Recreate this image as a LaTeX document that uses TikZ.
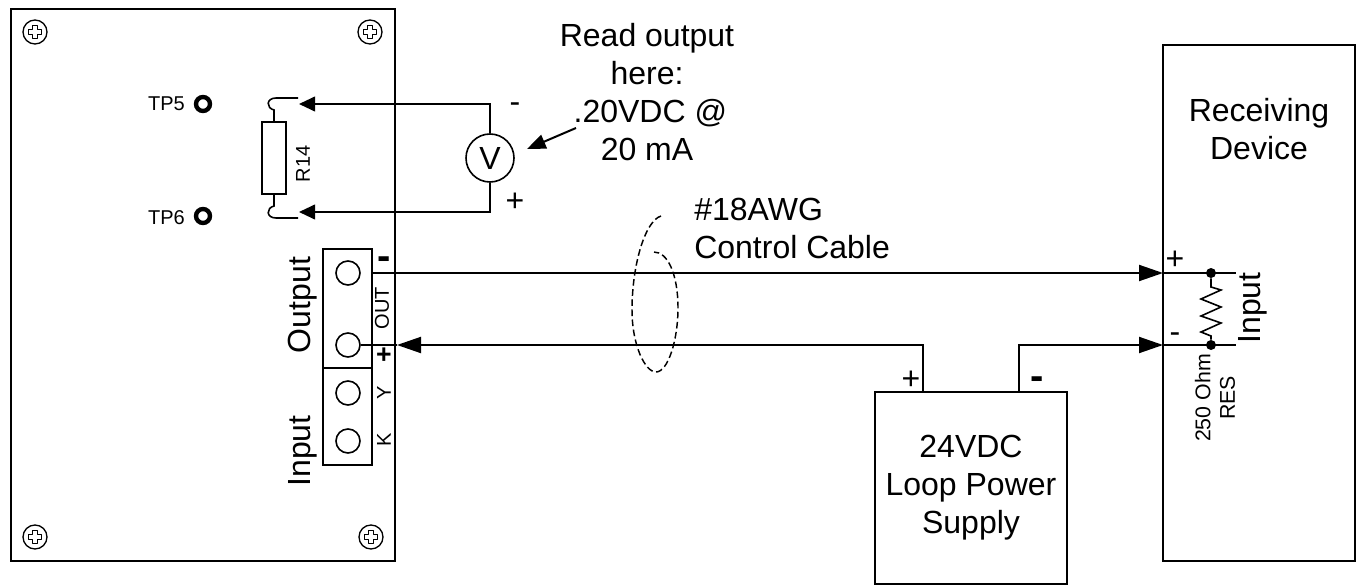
\documentclass[tikz,border=0pt]{standalone}
\usepackage{fontspec}
\setmainfont{Liberation Sans}
\usetikzlibrary{arrows.meta}
\tikzset{
  x=0.75pt,y=-0.75pt,
  wire/.style={line width=1.5pt,line join=miter},
  thin wire/.style={line width=1.2pt},
  box/.style={draw,line width=1.5pt,inner sep=0pt,fill=none},
  tipped/.style={wire,-{Triangle[length=18pt,width=12pt]}},
  small tipped/.style={wire,-{Triangle[length=12pt,width=11pt]}},
  term/.style={circle,draw,line width=1.2pt,minimum size=18pt,inner sep=0pt},
  big/.style={font=\fontsize{24}{28.5}\selectfont,align=center,inner sep=0pt},
  mid/.style={font=\fontsize{15}{17}\selectfont,align=center,inner sep=0pt},
  sign/.style={font=\fontsize{24}{24}\selectfont,inner sep=0pt},
  boldsign/.style={font=\fontsize{20}{20}\selectfont\bfseries,inner sep=0pt},
  heavysign/.style={font=\fontsize{30}{30}\selectfont\bfseries,inner sep=0pt},
  tp/.style={circle,draw,line width=3.3pt,minimum size=10.5pt,inner sep=0pt},
  screwhead/.style={circle,draw,line width=1pt,minimum size=18pt,inner sep=0pt},
  junction/.style={circle,fill,minimum size=7.5pt,inner sep=0pt},
}
\newcommand{\screw}[3]{%
  \node[screwhead] (#1) at (#2,#3) {};
  \draw[line width=1.1pt,line join=round] (#2-2.3,#3-6.5) -- (#2+2.3,#3-6.5) -- (#2+2.3,#3-2.3) -- (#2+6.5,#3-2.3) -- (#2+6.5,#3+2.3) -- (#2+2.3,#3+2.3) -- (#2+2.3,#3+6.5) -- (#2-2.3,#3+6.5) -- (#2-2.3,#3+2.3) -- (#2-6.5,#3+2.3) -- (#2-6.5,#3-2.3) -- (#2-2.3,#3-2.3) -- cycle;
}
\begin{document}
\begin{tikzpicture}
\useasboundingbox (0,0) rectangle (1356,585);
% board
\node[box,minimum width=288pt,minimum height=414pt] (board) at (203,285) {};
\screw{s1}{35}{32}\screw{s2}{370}{32}\screw{s3}{35}{537}\screw{s4}{371}{537}
% test points
\node[tp] (tp5) at (203,104) {};
\node[tp] (tp6) at (203,216) {};
\node[mid,anchor=east] at (185,104) {TP5};
\node[mid,anchor=east] at (185,218) {TP6};
% R14
\node[box,line width=1.2pt,minimum width=18pt,minimum height=54pt] (r14) at (274,158) {};
\node[mid,rotate=90] at (303,164) {R14};
\coordinate (stubT) at (298,98);
\coordinate (stubB) at (298,218);
\draw[thin wire] (r14.north) -- (274,110) .. controls (266,108) and (266,98) .. (276,98) -- (stubT);
\draw[thin wire] (r14.south) -- (274,206) .. controls (266,208) and (266,218) .. (276,218) -- (stubB);
% voltmeter
\node[circle,draw,line width=1.2pt,minimum size=36pt,inner sep=0pt,font=\fontsize{24}{24}\selectfont] (v) at (490,158) {V};
\coordinate (arrT) at (299,104);
\coordinate (arrB) at (299,212);
\draw[small tipped] (v.north) |- (arrT);
\draw[small tipped] (v.south) |- (arrB);
\node[sign] at (515,108) {-};
\node[sign] at (515,202) {+};
% note
\node[big] (note) at (647,92) {Read output\\here:\\\hspace*{5pt}.20VDC @\\20 mA};
\coordinate (noteA) at (576,128);
\coordinate (noteB) at (527,149);
\draw[wire,-{Triangle[length=14pt,width=11pt]}] (noteA) -- (noteB);
% terminal block
\node[box,minimum width=36.75pt,minimum height=89.25pt] (outb) at (347.5,308.5) {};
\node[box,minimum width=36.75pt,minimum height=72.75pt] (inb) at (347.5,416.5) {};
\node[term] (t1) at (348,273) {};
\node[term] (t2) at (348,345) {};
\node[term] (t3) at (348,393) {};
\node[term] (t4) at (348,441) {};
\node[big,rotate=90] at (303,305) {Output};
\node[big,rotate=90] at (303,451) {Input};
\node[mid,rotate=90] at (382,308) {OUT};
\node[mid,rotate=90] at (384,393) {Y};
\node[mid,rotate=90] at (384,440) {K};
\node[heavysign] at (384,263) {-};
\node[boldsign] at (384,356) {+};
% cable
\node[big,anchor=west,align=left] at (694,228) {\#18AWG\\Control Cable};
\draw[line width=1.1pt,dash pattern=on 5pt off 2.6pt] (661,216) .. controls (645,221) and (632,265) .. (632,310) .. controls (632,345) and (645,372) .. (656,372) .. controls (668,372) and (678,340) .. (678,308) .. controls (678,275) and (668,252) .. (654,252);
% receiving device
\node[box,minimum width=144pt,minimum height=387pt] (rx) at (1259,303) {};
\node[big] at (1259,129) {Receiving\\Device};
\coordinate (pT) at (1163,273);
\coordinate (pB) at (1163,345);
\coordinate (endT) at (1236,273);
\coordinate (endB) at (1236,345);
\draw[tipped] (t1.east -| outb.east) -- (pT);
\draw[wire] (pT) -- (endT);
\draw[wire] (pB) -- (endB);
\node[junction] (d1) at (1211,273) {};
\node[junction] (d2) at (1211,345) {};
\draw[thin wire] (d1) -- (1211,287) -- (1221,290) -- (1201,299) -- (1221,307) -- (1201,316) -- (1221,323) -- (1201,332) -- (1211,336) -- (d2);
\node[sign] at (1175,260) {+};
\node[sign] at (1175,338) {-};
\node[big,rotate=90] at (1253,308) {Input};
\node[mid,rotate=90,align=center,font=\fontsize{16}{18.5}\selectfont] at (1215,398) {250 Ohm\\RES};
% power supply
\node[box,minimum width=144pt,minimum height=144pt] (ps) at (971,488) {};
\node[big] at (971,488) {24VDC\\Loop Power\\Supply};
\coordinate (psP) at (923,392);
\coordinate (psM) at (1019,392);
\draw[tipped] (psP) |- (397,345);
\draw[wire] (397,345) -- (t2.east);
\draw[tipped] (psM) |- (pB);
\node[sign] at (911,380) {+};
\node[heavysign] at (1037,383) {-};
\end{tikzpicture}
\end{document}
